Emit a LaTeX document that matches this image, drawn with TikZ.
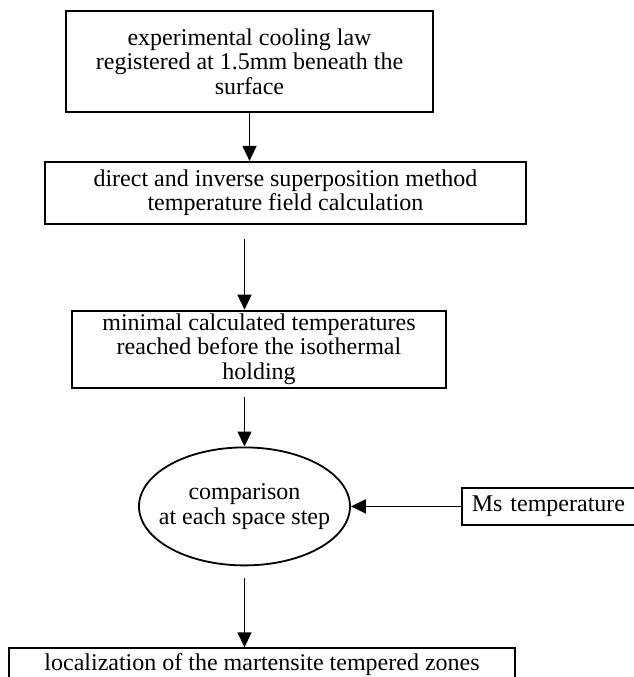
\documentclass[tikz,border=0pt]{standalone}
\usepackage{fontspec}
\setmainfont{Liberation Serif}
\usepackage{tikz}
\usetikzlibrary{shapes.geometric, arrows.meta, positioning}

\begin{document}
\begin{tikzpicture}[
    x=0.5pt, y=-0.5pt,
    box/.style={rectangle, draw, line width=0.9pt, inner sep=0pt, align=center,
                font=\fontsize{12}{12.2}\selectfont},
    oval/.style={ellipse, draw, line width=0.9pt, inner xsep=-6pt, inner ysep=0pt,
                 align=center, font=\fontsize{12}{12.2}\selectfont},
    arr/.style={-{Triangle[length=7.5pt,width=7pt]}, line width=0.8pt},
]
\useasboundingbox (0,0) rectangle (634,677);

\node[box, minimum width=183.5pt, minimum height=50.5pt] (law) at (249.5,61.5)
    {experimental cooling law\\registered at 1.5mm beneath the\\surface};
\node[box, minimum width=240.5pt, minimum height=31pt, below=24pt of law, xshift=18pt] (field)
    {direct and inverse superposition method\\temperature field calculation};
\node[box, minimum width=187pt, minimum height=38.5pt, below=42.5pt of field, xshift=-13.25pt] (minT)
    {minimal calculated temperatures\\reached before the isothermal\\holding};
\node[oval, minimum width=105.5pt, minimum height=59pt, below=29pt of minT, xshift=-7.25pt] (cmp)
    {comparison\\at each space step};
\node[box, text width=80pt, inner xsep=5pt, align=left, minimum height=18.5pt, right=55pt of cmp] (ms)
    {Ms temperature};
\node[box, minimum width=253pt, minimum height=16pt, below=40.5pt of cmp, xshift=8.75pt] (loc)
    {localization of the martensite tempered zones};

\draw[arr] (law.south) -- (law.south |- field.north);
\draw[arr, shorten <=7pt] (field.south -| cmp.north) -- (minT.north -| cmp.north);
\draw[arr, shorten <=4pt] (minT.south -| cmp.north) -- (cmp.north);
\draw[arr] (ms.west) -- (cmp.east);
\draw[arr, shorten <=6pt] (cmp.south) -- (cmp.south |- loc.north);

\end{tikzpicture}
\end{document}
